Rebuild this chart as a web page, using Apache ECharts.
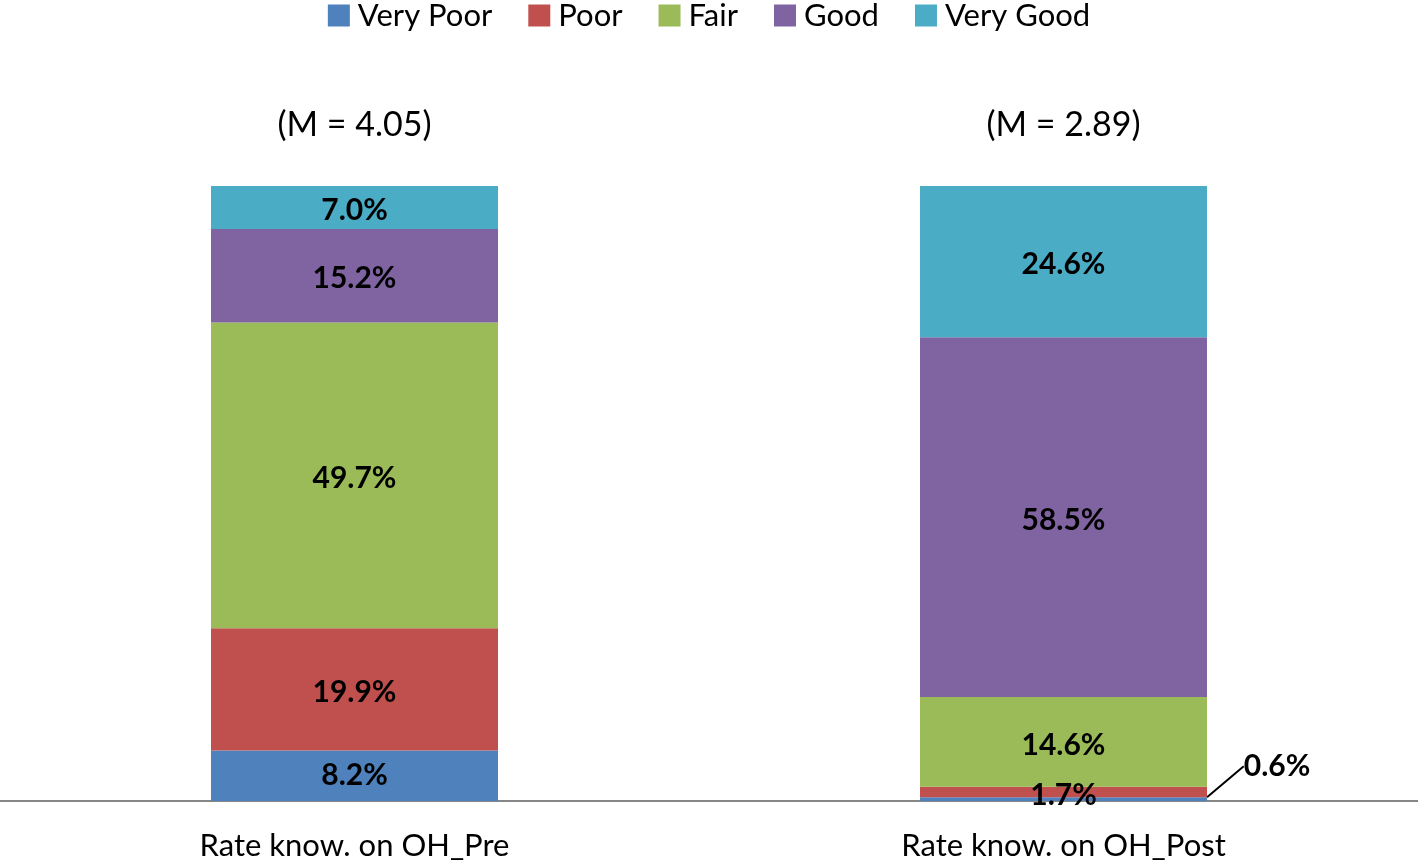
<!DOCTYPE html>
<html>
<head>
<meta charset="utf-8">
<script src="https://cdn.jsdelivr.net/npm/echarts@6/dist/echarts.min.js"></script>
<style>html,body{margin:0;padding:0;background:#fff;}#c{width:1418px;height:863px;}</style>
</head>
<body>
<div id="c"></div>
<script>
const categories = ['Rate know. on OH_Pre', 'Rate know. on OH_Post'];
const meanLabels = ['(M = 4.05)', '(M = 2.89)'];
const seriesNames = ['Very Poor', 'Poor', 'Fair', 'Good', 'Very Good'];
const veryPoor = [8.2, 0.6];
const poor = [19.9, 1.7];
const fair = [49.7, 14.6];
const good = [15.2, 58.5];
const veryGood = [7.0, 24.6];
const colors = ['#4F81BD', '#C0504D', '#9BBB59', '#8064A2', '#4BACC6'];

const FONT = 'Lato, "Open Sans", sans-serif';
const values = [veryPoor, poor, fair, good, veryGood];

const barSeries = seriesNames.map((name, i) => {
  const s = {
    name: name,
    type: 'bar',
    stack: 'total',
    barWidth: 287,
    itemStyle: { color: colors[i] },
    label: {
      show: true,
      position: 'inside',
      offset: [0, 3],
      formatter: p => p.value.toFixed(1) + '%',
      color: '#000',
      fontFamily: FONT,
      fontWeight: 'bold',
      fontSize: 30
    },
    data: values[i].slice()
  };
  if (i === 0) {
    s.data = values[i].map((v, k) => k === 1 ? {
      value: v,
      label: { position: 'right' },
      labelLine: { show: true, lineStyle: { color: '#000', width: 2 } }
    } : v);
    s.labelLayout = function (p) {
      if (p.dataIndex === 1) {
        return { x: p.rect.x + p.rect.width + 70, y: p.rect.y - 31, align: 'center', verticalAlign: 'middle' };
      }
      return {};
    };
  }
  return s;
});

const meanSeries = {
  name: 'mean',
  type: 'scatter',
  symbolSize: 0,
  silent: true,
  itemStyle: { opacity: 1 },
  label: {
    show: true,
    position: 'top',
    distance: 44,
    formatter: p => meanLabels[p.dataIndex],
    color: '#000',
    opacity: 1,
    fontFamily: FONT,
    fontSize: 34
  },
  data: [100, 100]
};

const chart = echarts.init(document.getElementById('c'));
chart.setOption({
  animation: false,
  backgroundColor: '#fff',
  legend: {
    data: seriesNames,
    top: -5,
    left: 'center',
    itemWidth: 22,
    itemHeight: 22,
    itemGap: 36,
    icon: 'rect',
    textStyle: { fontFamily: FONT, fontSize: 31, color: '#000', padding: [0, 0, 0, 3] }
  },
  grid: { left: 0, right: 0, top: 186, bottom: 62 },
  xAxis: {
    type: 'category',
    data: categories,
    axisLine: { lineStyle: { color: '#868686', width: 2 } },
    axisTick: { show: false },
    axisLabel: { color: '#000', fontFamily: FONT, fontSize: 31, margin: 29 }
  },
  yAxis: {
    type: 'value',
    min: 0,
    max: 100,
    show: false,
    splitLine: { show: false }
  },
  series: barSeries.concat([meanSeries])
});
</script>
</body>
</html>
